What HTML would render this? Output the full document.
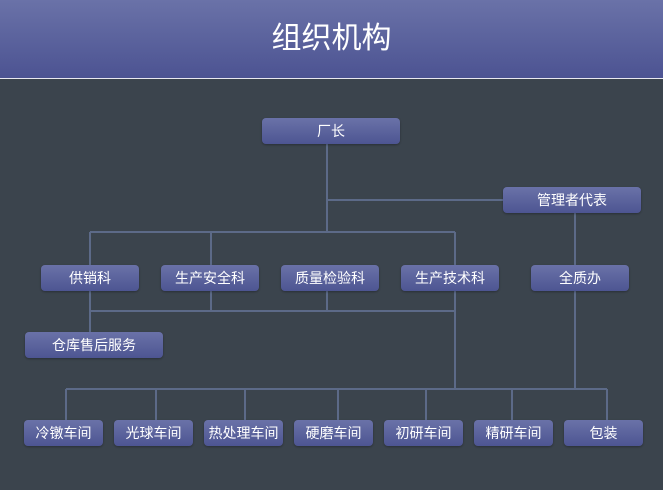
<!DOCTYPE html>
<html><head><meta charset="utf-8"><style>
body{margin:0;width:663px;height:490px;background:#3b444d;overflow:hidden;position:relative;font-family:"Liberation Sans","Noto Sans CJK SC",sans-serif}
.hd{position:absolute;left:0;top:0;width:663px;height:78px;background:linear-gradient(#6a72a8,#4c5392);border-bottom:1px solid #e8e8f0;color:#fff;font-size:30px;text-align:center;line-height:78px}
.b{position:absolute;height:26px;line-height:26px;border-radius:4px;background:linear-gradient(#6a72a8,#4d5592);color:#fff;font-size:14px;text-align:center;box-shadow:0 1px 2px rgba(0,0,0,.3)}
svg{position:absolute;left:0;top:0}
</style></head><body>
<div class="hd">组织机构</div>
<svg width="663" height="490"><g stroke="#5c6a88" stroke-width="2" fill="none">
<path d="M327 144V232M327 200H503M90 232H455M90 232V265M211 232V265M455 232V265"/>
<path d="M90 291V332M211 291V311M327 291V311M455 291V389M90 311H455"/>
<path d="M575 213V265M575 291V389M66 389H607M66 389V420M156 389V420M245 389V420M338 389V420M426 389V420M512 389V420M607 389V420"/>
</g></svg>
<div class="b" style="left:262px;top:118px;width:138px">厂长</div>
<div class="b" style="left:503px;top:187px;width:138px">管理者代表</div>
<div class="b" style="left:41px;top:265px;width:98px">供销科</div>
<div class="b" style="left:161px;top:265px;width:98px">生产安全科</div>
<div class="b" style="left:281px;top:265px;width:98px">质量检验科</div>
<div class="b" style="left:401px;top:265px;width:98px">生产技术科</div>
<div class="b" style="left:531px;top:265px;width:98px">全质办</div>
<div class="b" style="left:25px;top:332px;width:138px">仓库售后服务</div>
<div class="b" style="left:24px;top:420px;width:79px">冷镦车间</div>
<div class="b" style="left:114px;top:420px;width:79px">光球车间</div>
<div class="b" style="left:204px;top:420px;width:79px">热处理车间</div>
<div class="b" style="left:294px;top:420px;width:79px">硬磨车间</div>
<div class="b" style="left:384px;top:420px;width:79px">初研车间</div>
<div class="b" style="left:474px;top:420px;width:79px">精研车间</div>
<div class="b" style="left:564px;top:420px;width:79px">包装</div>
</body></html>
